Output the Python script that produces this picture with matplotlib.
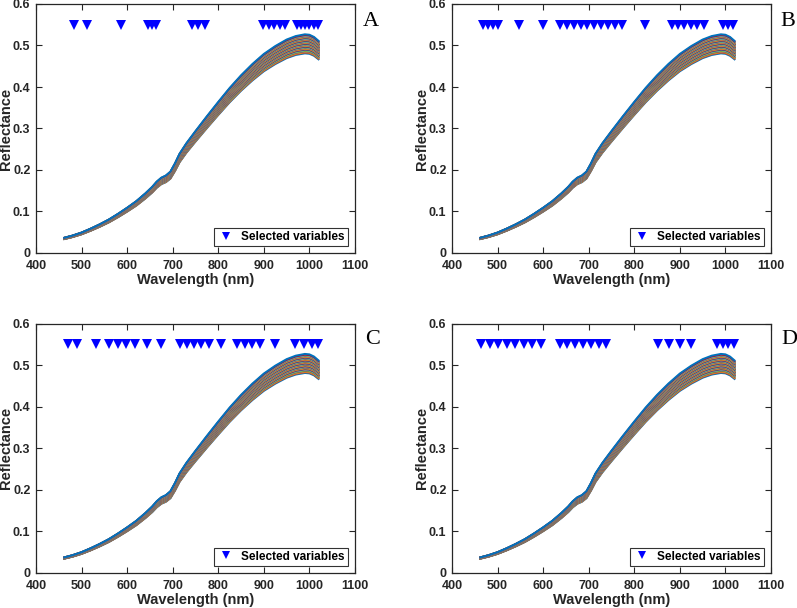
import matplotlib
matplotlib.use("Agg")
import matplotlib.pyplot as plt
import numpy as np
from matplotlib.lines import Line2D

# ---------------- data ----------------
wavelength = [462, 480, 500, 520, 540, 560, 580, 600, 620, 640, 655, 665, 675,
              685, 695, 705, 715, 730, 750, 775, 800, 825, 850, 875, 900, 925,
              950, 970, 990, 1000, 1010, 1020]
base_reflectance = [0.035, 0.040, 0.047, 0.056, 0.066, 0.077, 0.090, 0.104,
                    0.119, 0.137, 0.152, 0.164, 0.173, 0.178, 0.187, 0.206,
                    0.228, 0.252, 0.280, 0.314, 0.347, 0.379, 0.408, 0.434,
                    0.457, 0.475, 0.490, 0.498, 0.502, 0.501, 0.496, 0.487]
base_peak = 0.502
sample_peaks = [0.481, 0.483, 0.485, 0.486, 0.487, 0.489, 0.490, 0.491, 0.492,
                0.493, 0.494, 0.495, 0.496, 0.497, 0.498, 0.499, 0.500, 0.501,
                0.502, 0.503, 0.504, 0.505, 0.506, 0.507, 0.508, 0.509, 0.510,
                0.511, 0.512, 0.513, 0.514, 0.515, 0.516, 0.517, 0.518, 0.519,
                0.520, 0.521, 0.522, 0.523, 0.524, 0.525, 0.527]

selected_A = [484, 511, 587, 646, 655, 664, 742, 756, 771, 899, 911, 923, 935,
              946, 973, 982, 991, 1000, 1009, 1018]
selected_B = [467, 478, 491, 502, 546, 600, 637, 652, 667, 682, 697, 712, 727,
              742, 757, 772, 824, 882, 896, 910, 924, 938, 952, 995, 1006, 1016]
selected_C = [470, 491, 532, 561, 579, 598, 617, 643, 674, 715, 731, 747, 763,
              779, 807, 842, 859, 875, 892, 925, 968, 987, 1005, 1018]
selected_D = [464, 483, 502, 520, 539, 558, 576, 595, 636, 653, 670, 688, 705,
              722, 739, 853, 877, 900, 924, 981, 995, 1006, 1019]

marker_level = 0.55
panel_letters = ["A", "B", "C", "D"]
xticks = [400, 500, 600, 700, 800, 900, 1000, 1100]
yticks = [0, 0.1, 0.2, 0.3, 0.4, 0.5, 0.6]
ytick_labels = ["0", "0.1", "0.2", "0.3", "0.4", "0.5", "0.6"]

matlab_colors = [(0, 0.447, 0.741), (0.85, 0.325, 0.098), (0.929, 0.694, 0.125),
                 (0.494, 0.184, 0.556), (0.466, 0.674, 0.188),
                 (0.301, 0.745, 0.933), (0.635, 0.078, 0.184)]

# ---------------- figure ----------------
plt.rcParams['font.family'] = ['Liberation Sans', 'DejaVu Sans']
fig = plt.figure(figsize=(7.97, 6.08), dpi=100)
W, H = 797, 608
axw, axh = 319 / W, 249 / H
positions = [(36 / W, (H - 253) / H), (452 / W, (H - 253) / H),
             (36 / W, (H - 572.6) / H), (452 / W, (H - 572.6) / H)]
letter_pos = [(363, 26), (780, 26), (365, 344), (781, 344)]
selections = [selected_A, selected_B, selected_C, selected_D]

wl = np.array(wavelength)
base = np.array(base_reflectance)
dark = (0.15, 0.15, 0.15)

for i, (pos, sel) in enumerate(zip(positions, selections)):
    ax = fig.add_axes([pos[0], pos[1], axw, axh])
    for k, pk in enumerate(sample_peaks):
        ax.plot(wl, base * pk / base_peak, color=matlab_colors[k % 7], lw=1.4,
                solid_joinstyle='round')
    ax.plot(sel, [marker_level] * len(sel), linestyle='none', marker='v',
            color=(0, 0, 1), markersize=7, markeredgewidth=0)
    ax.set_xlim(400, 1100)
    ax.set_ylim(0, 0.6)
    ax.set_xticks(xticks)
    ax.set_xticklabels([str(t) for t in xticks], fontweight='bold', fontsize=9,
                       color=dark)
    ax.set_yticks(yticks)
    ax.set_yticklabels(ytick_labels, fontweight='bold', fontsize=9, color=dark)
    ax.tick_params(direction='in', length=4, width=0.8, top=True, right=True,
                   colors=dark)
    ax.tick_params(axis='x', pad=5)
    ax.tick_params(axis='y', pad=4)
    for s in ax.spines.values():
        s.set_color(dark)
        s.set_linewidth(0.9)
    ax.set_xlabel("Wavelength (nm)", fontweight='bold', fontsize=10.5, color=dark,
                  labelpad=1)
    ax.set_ylabel("Reflectance", fontweight='bold', fontsize=10.5, color=dark)
    ax.yaxis.set_label_coords(-0.072, 0.5)
    handle = Line2D([], [], linestyle='none', marker='v', color=(0, 0, 1),
                    markersize=6, markeredgewidth=0)
    leg = ax.legend([handle], ["Selected variables"], loc='lower right',
                    prop={'weight': 'bold', 'size': 8.5}, frameon=True,
                    fancybox=False, edgecolor='black', borderaxespad=0.6,
                    handletextpad=0.6, borderpad=0.25, handlelength=1.5)
    leg.get_frame().set_linewidth(0.8)
    fig.text(letter_pos[i][0] / W, 1 - letter_pos[i][1] / H, panel_letters[i],
             fontsize=16, family=['Liberation Serif', 'DejaVu Serif'],
             ha='left', va='baseline')

fig.savefig("out.png", dpi=100)
